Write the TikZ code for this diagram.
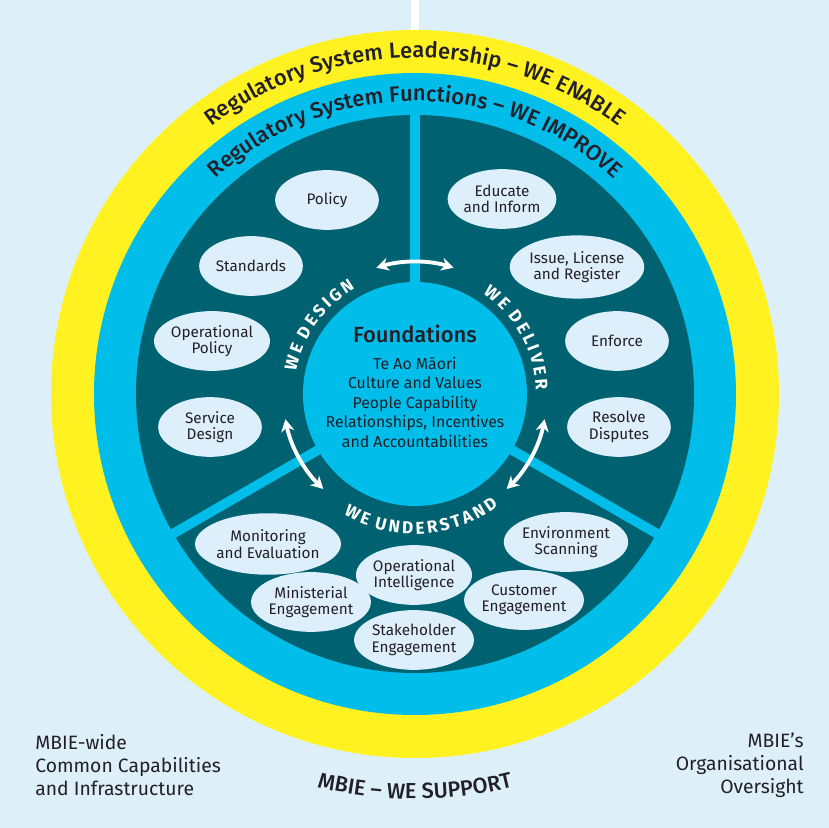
\documentclass[tikz,border=0pt]{standalone}
\usepackage{fontspec}
\setmainfont{Fira Sans}[BoldFont={Fira Sans Medium}]
\newfontfamily\labelfont{Fira Sans}[BoldFont={Fira Sans Bold}]
\usepackage{xcolor}
\usepackage{tikz}
\usetikzlibrary{shapes.geometric, arrows.meta, decorations.text}
\definecolor{MBSky}{RGB}{221,240,250}
\definecolor{MBYellow}{RGB}{255,242,32}
\definecolor{MBCyan}{RGB}{0,189,233}
\definecolor{MBTeal}{RGB}{0,98,112}
\definecolor{MBPale}{RGB}{221,239,250}
\definecolor{MBInk}{RGB}{35,31,40}

\begin{document}
\begin{tikzpicture}[x=0.02cm, y=0.02cm,
    bubble/.style={ellipse, fill=MBPale, text=MBInk, inner sep=0pt,
                   minimum width=59pt, minimum height=34pt, align=center,
                   font=\fontsize{8.7}{9.4}\selectfont},
    divider/.style={MBCyan, line width=5.5pt},
    dblarr/.style={{Stealth[length=7pt,width=7.5pt]}-{Stealth[length=7pt,width=7.5pt]},
                   white, line width=2.2pt},
    side/.style={text=MBInk, inner sep=0pt,
                 font=\fontsize{11}{13}\selectfont}
  ]
  % Page and rings
  \fill[MBSky] (-415,-434) rectangle (414,394);
  \fill[white] (-4,300) rectangle (4.5,394);
  \fill[MBYellow] (0,0) circle[radius=364];
  \fill[MBCyan] (0,0) circle[radius=321];
  \fill[MBTeal] (0,0) circle[radius=279];
  \foreach \a in {90,210,330}
    \draw[divider] (0,0) -- (\a:283);

  % Foundations core
  \node[circle, fill=MBCyan, minimum size=127.5pt, inner sep=0pt] (core) at (0,0) {};
  \node[text=MBInk, font=\bfseries\fontsize{12.5}{14}\selectfont] (found) at (0,60) {Foundations};
  \node[text=MBInk, align=center, font=\fontsize{9}{11.1}\selectfont] (pillars) at (0,-8)
       {Te Ao Māori\\Culture and Values\\People Capability\\
        Relationships, Incentives\\and Accountabilities};

  % Swap arrows
  \coordinate (topA) at (107:132);
  \coordinate (leftA) at (191:132);
  \coordinate (rightA) at (349:132);
  \draw[dblarr] (topA) arc[start angle=107, end angle=73, radius=132];
  \draw[dblarr] (leftA) arc[start angle=191, end angle=226, radius=132];
  \draw[dblarr] (rightA) arc[start angle=349, end angle=314, radius=132];

  % We design
  \node[bubble] (policy) at (-88,194) {Policy};
  \node[bubble] (stand) at (-164,128) {Standards};
  \node[bubble] (oppol) at (-203,53) {Operational\\Policy};
  \node[bubble] (servd) at (-205,-33) {Service\\Design};
  % We deliver
  \node[bubble] (educ) at (87,195) {Educate\\and Inform};
  \node[bubble, minimum width=67pt, minimum height=36pt] (issue) at (162,127)
       {Issue, License\\and Register};
  \node[bubble] (enf) at (202,53) {Enforce};
  \node[bubble] (resolve) at (204,-33) {Resolve\\Disputes};
  % We understand
  \node[bubble, minimum width=65pt, minimum height=35pt] (monit) at (-147,-150)
       {Monitoring\\and Evaluation};
  \node[bubble] (minis) at (-104,-208) {Ministerial\\Engagement};
  \node[bubble] (opint) at (-1,-181) {Operational\\Intelligence};
  \node[bubble] (stake) at (-1,-246) {Stakeholder\\Engagement};
  \node[bubble] (envsc) at (151,-148) {Environment\\Scanning};
  \node[bubble] (custe) at (109,-206) {Customer\\Engagement};

  % Curved labels (letters spaced by hand)
  \path[decorate, decoration={text along path, text align=center,
        text={|\labelfont\bfseries\fontsize{9.8}{11}\selectfont\color{white}|{W\kern1.6pt}{E\kern1.6pt} {D\kern1.6pt}{E\kern1.6pt}{S\kern1.6pt}{I\kern1.6pt}{G\kern1.6pt}{N}}}]
    (190:121) arc[start angle=190, end angle=99, radius=121];
  \path[decorate, decoration={text along path, text align=center,
        text={|\labelfont\bfseries\fontsize{9.8}{11}\selectfont\color{white}|{W\kern1.6pt}{E\kern1.6pt} {D\kern1.6pt}{E\kern1.6pt}{L\kern1.6pt}{I\kern1.6pt}{V\kern1.6pt}{E\kern1.6pt}{R}}}]
    (75:121) arc[start angle=75, end angle=-17, radius=121];
  \path[decorate, decoration={text along path, text align=center,
        text={|\labelfont\bfseries\fontsize{9.8}{11}\selectfont\color{white}|{W\kern1.6pt}{E\kern1.6pt} {U\kern1.6pt}{N\kern1.6pt}{D\kern1.6pt}{E\kern1.6pt}{R\kern1.6pt}{S\kern1.6pt}{T\kern1.6pt}{A\kern1.6pt}{N\kern1.6pt}{D}}}]
    (223:140) arc[start angle=223, end angle=323, radius=140];
  \path[decorate, decoration={text along path, text align=center,
        text={|\bfseries\fontsize{12.5}{14}\selectfont\color{MBInk}|Regulatory System Leadership – WE ENABLE}}]
    (150:336) arc[start angle=150, end angle=30, radius=336];
  \path[decorate, decoration={text along path, text align=center,
        text={|\bfseries\fontsize{12.5}{14}\selectfont\color{MBInk}|Regulatory System Functions – WE IMPROVE}}]
    (150:293) arc[start angle=150, end angle=30, radius=293];
  \path[decorate, decoration={text along path, text align=center,
        text={|\bfseries\fontsize{12.4}{14}\selectfont\color{MBInk}|MBIE – WE SUPPORT}}]
    (240:405) arc[start angle=240, end angle=300, radius=405];

  % Corner notes
  \node[side, anchor=west, align=left] (common) at (-380,-371)
       {MBIE-wide\\Common Capabilities\\and Infrastructure};
  \node[side, anchor=east, align=right] (oversight) at (389,-371)
       {MBIE’s\\Organisational\\Oversight};
\end{tikzpicture}
\end{document}
